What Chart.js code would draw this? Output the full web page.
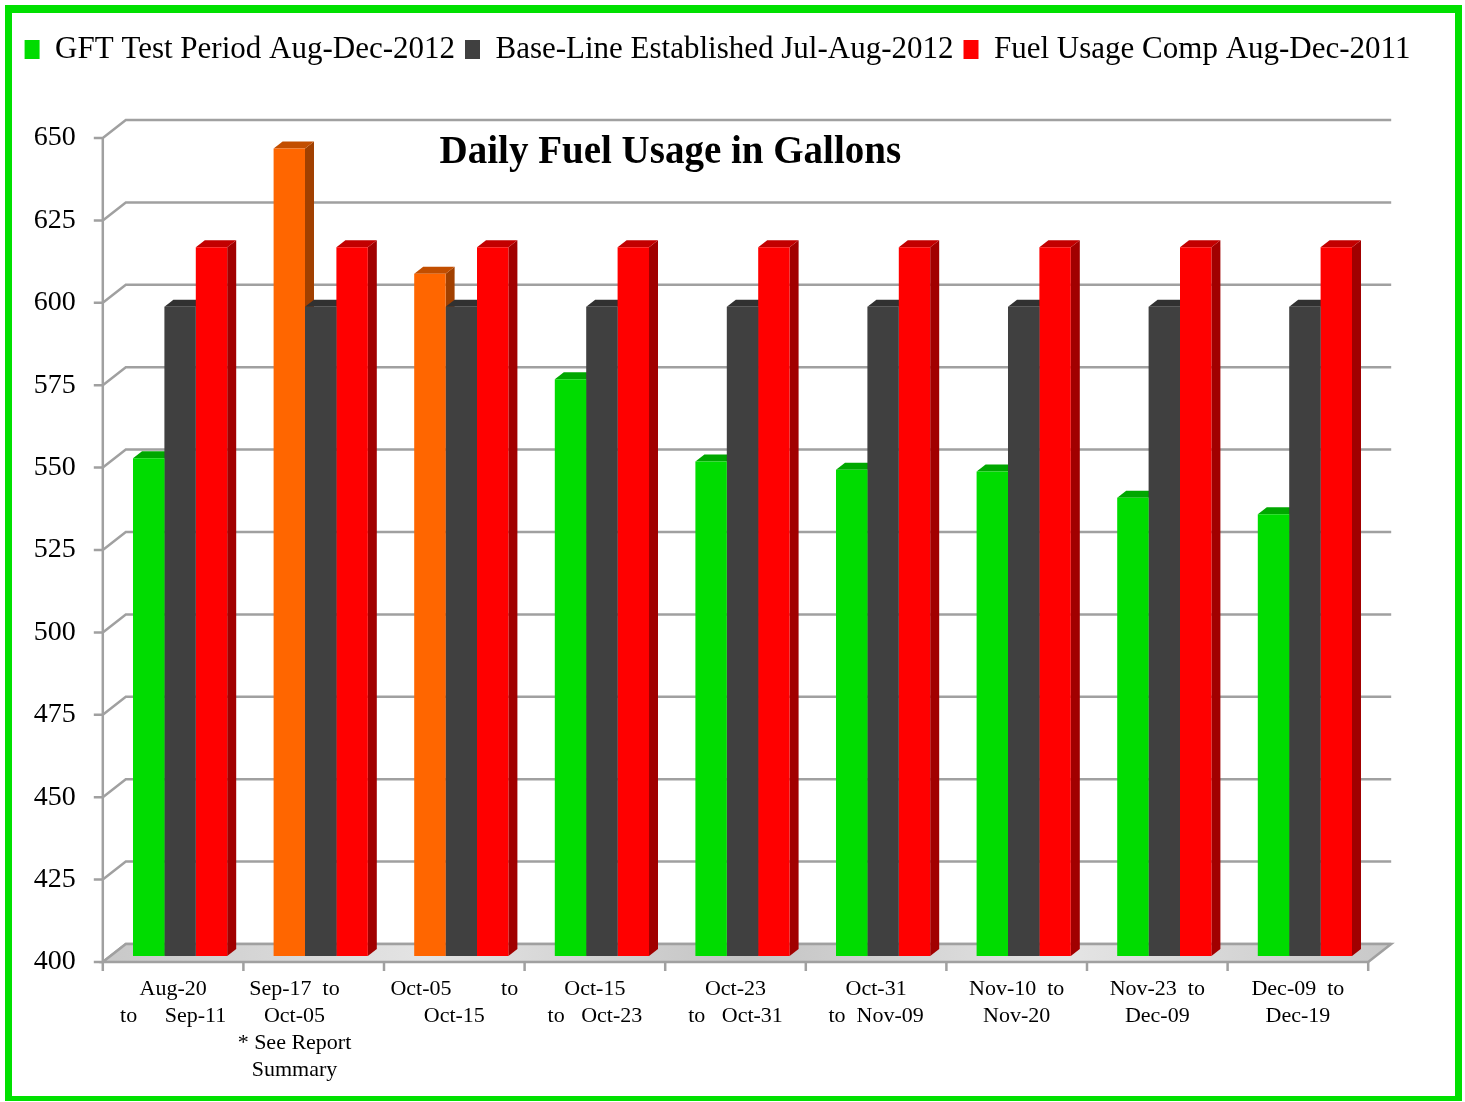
<!DOCTYPE html>
<html>
<head>
<meta charset="utf-8">
<title>Daily Fuel Usage in Gallons</title>
<script src="https://cdn.jsdelivr.net/npm/chart.js@4.4.1/dist/chart.umd.min.js"></script>
<style>
  html, body { margin: 0; padding: 0; background: #fff; }
  #wrap { position: relative; width: 1465px; height: 1102px; overflow: hidden; }
  #fuelChart { position: absolute; left: 0; top: 0; display: block; }
  #frame {
    position: absolute; left: 5px; top: 5px; width: 1457px; height: 1096px;
    box-sizing: border-box; border: 7px solid #00e000; border-top-width: 8px; border-bottom-width: 5px;
    pointer-events: none;
  }
</style>
</head>
<body>
<div id="wrap">
  <canvas id="fuelChart" width="1465" height="1102"></canvas>
  <div id="frame"></div>
</div>
<script>
// data
const categories = [
  ['Aug-20', 'to     Sep-11'],
  ['Sep-17  to       ', 'Oct-05       ', '* See Report       ', 'Summary       '],
  ['Oct-05         to', 'Oct-15'],
  ['Oct-15', 'to   Oct-23'],
  ['Oct-23', 'to   Oct-31'],
  ['Oct-31', 'to  Nov-09'],
  ['Nov-10  to', 'Nov-20'],
  ['Nov-23  to', 'Dec-09'],
  ['Dec-09  to', 'Dec-19']
];
const seriesNames = [
  'GFT Test Period Aug-Dec-2012',
  'Base-Line Established Jul-Aug-2012',
  'Fuel Usage Comp Aug-Dec-2011'
];
const gftTest   = [551, 645, 607, 575, 550, 547.5, 547, 539, 534];
const baseLine  = [597, 597, 597, 597, 597, 597, 597, 597, 597];
const fuelComp  = [615, 615, 615, 615, 615, 615, 615, 615, 615];
const yTicks    = [400, 425, 450, 475, 500, 525, 550, 575, 600, 625, 650];
const chartTitleText = 'Daily Fuel Usage in Gallons';

const FONT = "'Liberation Serif', 'Times New Roman', serif";
const GREEN = '#00dc00';
const ORANGE = '#ff6600';
const GREY = '#404040';
const RED = '#ff0000';
const GRID_COLOR = '#a0a0a0';

// 3d look: bar depth, floor depth, and where the front axis sits vs the bar faces
const BAR_DX = 9, BAR_DY = 7;
const WALL_DX = 23, WALL_DY = 18;
const FRONT_DX = -7, FRONT_DY = 6;

// first series: the two suspect periods are orange
const gftColors = gftTest.map((v, i) => (i === 1 || i === 2) ? ORANGE : GREEN);

function darken(hex, f) {
  const n = parseInt(hex.slice(1), 16);
  const r = Math.round(((n >> 16) & 255) * f);
  const g = Math.round(((n >> 8) & 255) * f);
  const b = Math.round((n & 255) * f);
  return `rgb(${r}, ${g}, ${b})`;
}

// give the legend a taller box so the plot starts lower
const legendSpacer = {
  id: 'legendSpacer',
  beforeInit(chart) {
    const fit = chart.legend.fit;
    chart.legend.fit = function () {
      fit.call(this);
      this.height = 108;
    };
  }
};

const bar3d = {
  id: 'bar3d',
  beforeDatasetsDraw(chart) {
    const { ctx, chartArea: area, scales } = chart;
    const yScale = scales.y;
    const floorPx = yScale.getPixelForValue(yScale.min);
    const left = area.left + FRONT_DX;
    const right = area.right + FRONT_DX;
    const bottom = floorPx + FRONT_DY;
    const top = yScale.getPixelForValue(yScale.max) + FRONT_DY;

    ctx.save();
    ctx.strokeStyle = GRID_COLOR;
    ctx.lineWidth = 2.5;

    // back wall gridlines with the diagonal to the front axis
    yScale.ticks.forEach(t => {
      const py = yScale.getPixelForValue(t.value) + FRONT_DY;
      ctx.beginPath();
      ctx.moveTo(left - 9, py);
      ctx.lineTo(left, py);
      ctx.lineTo(left + WALL_DX, py - WALL_DY);
      ctx.lineTo(right + WALL_DX, py - WALL_DY);
      ctx.stroke();
    });

    ctx.beginPath();
    ctx.moveTo(left, top);
    ctx.lineTo(left, bottom);
    ctx.stroke();

    // floor
    const grad = ctx.createLinearGradient(left, 0, right + WALL_DX, 0);
    grad.addColorStop(0, '#c8c8c8');
    grad.addColorStop(0.25, '#e4e4e4');
    grad.addColorStop(0.5, '#c4c4c4');
    grad.addColorStop(0.75, '#e4e4e4');
    grad.addColorStop(1, '#c8c8c8');
    ctx.beginPath();
    ctx.moveTo(left, bottom);
    ctx.lineTo(right, bottom);
    ctx.lineTo(right + WALL_DX, bottom - WALL_DY);
    ctx.lineTo(left + WALL_DX, bottom - WALL_DY);
    ctx.closePath();
    ctx.fillStyle = grad;
    ctx.fill();
    ctx.stroke();

    // category tick marks
    const n = chart.data.labels.length;
    for (let i = 0; i <= n; i++) {
      const px = left + (right - left) * i / n;
      ctx.beginPath();
      ctx.moveTo(px, bottom);
      ctx.lineTo(px, bottom + 9);
      ctx.stroke();
    }

    // sides then tops of every bar, the front faces come from chart.js
    const bars = [];
    chart.data.datasets.forEach((ds, di) => {
      chart.getDatasetMeta(di).data.forEach((el, i) => {
        const p = el.getProps(['x', 'y', 'width'], true);
        const color = Array.isArray(ds.backgroundColor) ? ds.backgroundColor[i] : ds.backgroundColor;
        bars.push({ l: p.x - p.width / 2, r: p.x + p.width / 2, t: p.y, b: floorPx, color });
      });
    });
    bars.forEach(b => {
      ctx.beginPath();
      ctx.moveTo(b.r, b.t);
      ctx.lineTo(b.r + BAR_DX, b.t - BAR_DY);
      ctx.lineTo(b.r + BAR_DX, b.b - BAR_DY);
      ctx.lineTo(b.r, b.b);
      ctx.closePath();
      ctx.fillStyle = darken(b.color, 0.63);
      ctx.fill();
    });
    bars.forEach(b => {
      ctx.beginPath();
      ctx.moveTo(b.l, b.t);
      ctx.lineTo(b.l + BAR_DX, b.t - BAR_DY);
      ctx.lineTo(b.r + BAR_DX, b.t - BAR_DY);
      ctx.lineTo(b.r, b.t);
      ctx.closePath();
      ctx.fillStyle = darken(b.color, 0.76);
      ctx.fill();
    });
    ctx.restore();
  },
  afterDraw(chart) {
    const { ctx, chartArea: area } = chart;
    ctx.save();
    ctx.font = `bold 39px ${FONT}`;
    ctx.fillStyle = '#000';
    ctx.textAlign = 'center';
    ctx.textBaseline = 'middle';
    ctx.fillText(chartTitleText, area.left + area.width * 0.443, area.top + 21);
    ctx.restore();
  }
};

const ctx = document.getElementById('fuelChart');
new Chart(ctx, {
  type: 'bar',
  data: {
    labels: categories,
    datasets: [
      { label: seriesNames[0], data: gftTest, backgroundColor: gftColors },
      { label: seriesNames[1], data: baseLine, backgroundColor: GREY },
      { label: seriesNames[2], data: fuelComp, backgroundColor: RED }
    ]
  },
  options: {
    responsive: false,
    animation: false,
    layout: { padding: { top: 24, left: 0, right: 30, bottom: 0 } },
    datasets: {
      bar: { categoryPercentage: 0.67, barPercentage: 1, borderWidth: 0 }
    },
    plugins: {
      legend: {
        position: 'top',
        labels: {
          font: { family: FONT, size: 31 },
          color: '#000',
          boxWidth: 15,
          boxHeight: 19,
          padding: 10
        }
      },
      tooltip: { enabled: false },
      title: { display: false }
    },
    scales: {
      x: {
        grid: { display: false, drawTicks: false, tickLength: 0 },
        border: { display: false },
        ticks: {
          font: { family: FONT, size: 22, lineHeight: 1.23 },
          color: '#000',
          padding: 20,
          labelOffset: FRONT_DX,
          autoSkip: false,
          maxRotation: 0
        },
        afterFit(scale) { scale.height = 146; }
      },
      y: {
        min: 400,
        max: 650,
        grid: { display: false, drawTicks: false, tickLength: 0 },
        border: { display: false },
        ticks: {
          font: { family: FONT, size: 28 },
          color: '#000',
          padding: 34,
          labelOffset: FRONT_DY
        },
        afterBuildTicks(scale) {
          scale.ticks = yTicks.map(v => ({ value: v }));
        },
        afterFit(scale) { scale.width = 109.8; }
      },
      yRight: {
        type: 'linear',
        position: 'right',
        grid: { display: false },
        border: { display: false },
        ticks: { display: false },
        afterFit(scale) { scale.width = 59.8; }
      }
    }
  },
  plugins: [legendSpacer, bar3d]
});
</script>
</body>
</html>
